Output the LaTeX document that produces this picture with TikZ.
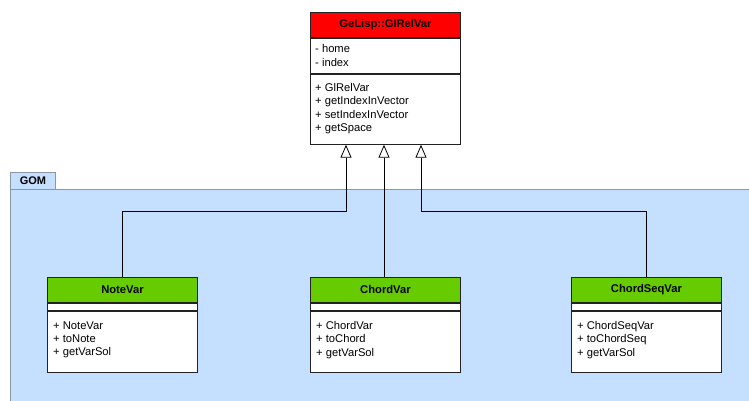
\documentclass[tikz,border=0pt]{standalone}
\usepackage{fontspec}
\setmainfont{Liberation Sans}
\usetikzlibrary{arrows.meta,calc}
\definecolor{hdrred}{RGB}{255,0,0}
\definecolor{hdrgreen}{RGB}{102,204,0}
\definecolor{pkgblue}{RGB}{196,223,255}
\definecolor{pkgline}{RGB}{140,150,165}
\definecolor{boxline}{RGB}{35,35,35}
\definecolor{shade}{RGB}{110,115,125}
\begin{document}
\begin{tikzpicture}[x=1pt,y=-1pt,
  sec/.style={draw=boxline, line width=0.9pt, fill=white, rectangle, inner sep=0pt,
    minimum width=150pt, anchor=north west},
  hdr/.style={sec, minimum height=25pt, font=\fontsize{11.2}{13}\selectfont\bfseries},
  members/.style={anchor=north west, align=left, inner sep=0pt,
    font=\fontsize{11.2}{13.3}\selectfont},
  inh/.style={draw=black, line width=0.8pt,
    -{Triangle[open, length=13pt, width=11pt, line width=0.8pt]}}
]
\useasboundingbox (0,0) rectangle (749,401);

% package GOM
\node[draw=pkgline, fill=pkgblue, line width=0.8pt, anchor=north west, inner sep=0pt,
  minimum width=45pt, minimum height=17pt, font=\fontsize{11}{12}\selectfont\bfseries]
  (gomtab) at (10,172) {GOM};
\node[draw=pkgline, fill=pkgblue, line width=0.8pt, anchor=north west, inner sep=0pt,
  minimum width=760pt, minimum height=230pt] (gombody) at (10,189) {};

% superclass
\node[hdr, fill=hdrred] (gl) at (310,12) {GeLisp::GlRelVar};
\node[sec, minimum height=35pt] (glattr) at (gl.south west) {};
\node[sec, minimum height=70pt] (glops) at (glattr.south west) {};
\node[members] (glattrtxt) at ($(glattr.north west)+(5,6.5)$) {- home\\- index};
\node[members] (glopstxt) at ($(glops.north west)+(5,9.5)$)
  {+ GlRelVar\\+ getIndexInVector\\+ setIndexInVector\\+ getSpace};

% subclasses (thin shadow under each box)
\foreach \bx in {47,310,571}
  \fill[shade] (\bx+1,370) rectangle (\bx+151,371.8);

\node[hdr, fill=hdrgreen] (note) at (47,277) {NoteVar};
\node[sec, minimum height=7pt] (noteattr) at (note.south west) {};
\node[sec, minimum height=61pt] (noteops) at (noteattr.south west) {};
\node[members] (noteopstxt) at ($(noteops.north west)+(6,10.5)$)
  {+ NoteVar\\+ toNote\\+ getVarSol};

\node[hdr, fill=hdrgreen] (chord) at (310,277) {ChordVar};
\node[sec, minimum height=7pt] (chordattr) at (chord.south west) {};
\node[sec, minimum height=61pt] (chordops) at (chordattr.south west) {};
\node[members] (chordopstxt) at ($(chordops.north west)+(6,10.5)$)
  {+ ChordVar\\+ toChord\\+ getVarSol};

\node[hdr, fill=hdrgreen] (seq) at (571,277) {ChordSeqVar};
\node[sec, minimum height=7pt] (seqattr) at (seq.south west) {};
\node[sec, minimum height=61pt] (seqops) at (seqattr.south west) {};
\node[members] (seqopstxt) at ($(seqops.north west)+(6,10.5)$)
  {+ ChordSeqVar\\+ toChordSeq\\+ getVarSol};

% generalisation connectors
\coordinate (t1) at ($(glops.south west)+(36,0)$);
\coordinate (t2) at ($(glops.south west)+(74,0)$);
\coordinate (t3) at ($(glops.south west)+(111,0)$);
\coordinate (b1) at ($(t1)+(0,67)$);
\coordinate (b3) at ($(t3)+(0,67)$);
\draw[inh] (note.north) |- (b1) -- (t1);
\draw[inh] (chord.north -| t2) -- (t2);
\draw[inh] (seq.north) |- (b3) -- (t3);
\end{tikzpicture}
\end{document}
